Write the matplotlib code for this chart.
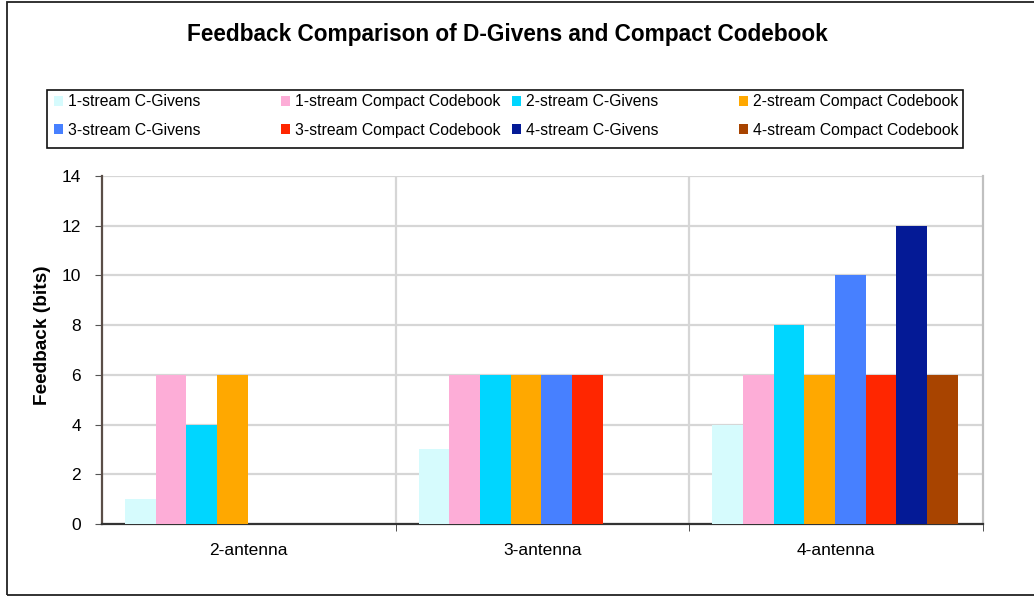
import numpy as np
import matplotlib.pyplot as plt
from matplotlib.patches import Rectangle, Patch

plt.rcParams["font.family"] = ["Liberation Sans", "DejaVu Sans"]

# Data
antennas = ["2-antenna", "3-antenna", "4-antenna"]
series_names = [
    "1-stream C-Givens",
    "1-stream Compact Codebook",
    "2-stream C-Givens",
    "2-stream Compact Codebook",
    "3-stream C-Givens",
    "3-stream Compact Codebook",
    "4-stream C-Givens",
    "4-stream Compact Codebook",
]
s1_cg = [1, 3, 4]
s1_cc = [6, 6, 6]
s2_cg = [4, 6, 8]
s2_cc = [6, 6, 6]
s3_cg = [0, 6, 10]
s3_cc = [0, 6, 6]
s4_cg = [0, 0, 12]
s4_cc = [0, 0, 6]
colors = ["#D6FBFD", "#FDADD7", "#00D6FF", "#FFA800",
          "#4780FF", "#FF2600", "#041A96", "#A84400"]

values = [s1_cg, s1_cc, s2_cg, s2_cc, s3_cg, s3_cc, s4_cg, s4_cc]

W, H = 1034, 596
fig = plt.figure(figsize=(W / 100, H / 100), dpi=100)
ax = fig.add_axes([102 / W, 1 - 524 / H, (983 - 102) / W, (524 - 176) / H])

# outer chart frame (right edge falls outside the image)
fig.patches.append(Rectangle((7 / W, 1 - 595 / H), (1060 - 7) / W, (595 - 2) / H,
                             transform=fig.transFigure, fill=False,
                             edgecolor="#222222", linewidth=1.3, zorder=0))

x = np.arange(len(antennas))
bw = 0.1044
handles = []
for i, (vals, c) in enumerate(zip(values, colors)):
    ax.bar(x - 0.4215 + (i + 0.5) * bw, vals, width=bw, color=c,
           edgecolor="none", zorder=3)
    handles.append(Patch(facecolor=c, edgecolor="none"))

ax.set_xlim(-0.5, 2.5)
ax.set_ylim(0, 14)
ax.set_yticks(np.arange(0, 15, 2))
ax.set_xticks(x)
ax.set_xticklabels(antennas)
ax.set_xticks([0.5, 1.5, 2.5], minor=True)
ax.tick_params(axis="x", which="major", length=0, pad=14, labelsize=12.5)
ax.tick_params(axis="x", which="minor", length=5, color="#333333", direction="out")
ax.tick_params(axis="y", length=5, color="#555555", pad=10, labelsize=12.5)

ax.grid(axis="y", color="#D6D6D6", linewidth=1.6, zorder=0)
for b in [0.5, 1.5]:
    ax.axvline(b, color="#D6D6D6", linewidth=1.6, zorder=0)

ax.spines["top"].set_visible(False)
ax.spines["right"].set_color("#C0C0C0")
ax.spines["right"].set_linewidth(1.6)
ax.spines["left"].set_color("#5A4E48")
ax.spines["left"].set_linewidth(1.6)
ax.spines["bottom"].set_color("#333333")
ax.spines["bottom"].set_linewidth(1.6)

ax.set_ylabel("Feedback (bits)", fontsize=13.7, fontweight="bold")
ax.yaxis.set_label_coords(-0.058, 0.543)

fig.text(507 / W, 1 - 35 / H, "Feedback Comparison of D-Givens and Compact Codebook",
         ha="center", va="center", fontsize=16.3, fontweight="bold")

# legend box with four equal-width columns
fig.patches.append(Rectangle((47 / W, 1 - 148 / H), (963 - 47) / W, (148 - 90) / H,
                             transform=fig.transFigure, fill=False,
                             edgecolor="#111111", linewidth=1.2))
col_x = [54, 281, 512, 739]
for j in range(4):
    fig.legend([handles[j], handles[j + 4]], [series_names[j], series_names[j + 4]],
               loc="center left", bbox_to_anchor=(col_x[j] / W, 1 - 116 / H),
               frameon=False, fontsize=11.3, handlelength=0.55, handleheight=0.55,
               handletextpad=0.35, labelspacing=0.85, borderpad=0, borderaxespad=0)

fig.savefig("out.png", dpi=100)
